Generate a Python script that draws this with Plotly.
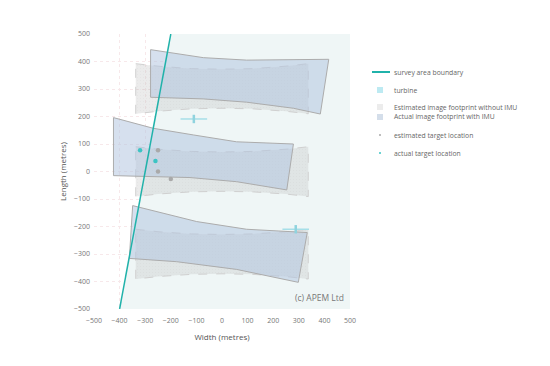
import plotly.graph_objects as go

# ---------------- data ----------------
ticks = [-500, -400, -300, -200, -100, 0, 100, 200, 300, 400, 500]

boundary_x = [-400, -200]
boundary_y = [-500, 500]

# survey area polygon (right of boundary)
survey_x = [-400, -200, 500, 500, -400]
survey_y = [-500, 500, 500, -500, -500]

# estimated image footprints without IMU (three strips)
est_x = [-337, -250, -120, 0, 120, 250, 337]
est1_top = [392, 383, 374, 372, 374, 383, 392]
est1_bot = [210, 219, 228, 230, 228, 219, 210]
est2_top = [90, 81, 73, 71, 73, 81, 90]
est2_bot = [-91, -82, -74, -72, -74, -82, -91]
est3_top = [-210, -219, -227, -229, -227, -219, -210]
est3_bot = [-391, -382, -374, -372, -374, -382, -391]

# actual image footprints with IMU
act1_x = [-279, -73, 96, 417, 384, 279, 96, -73, -279, -279]
act1_y = [443, 414, 405, 408, 209, 230, 252, 264, 270, 443]
act2_x = [-424, -268, -112, 57, 279, 253, 57, -125, -424, -424]
act2_y = [196, 157, 133, 108, 100, -67, -37, -22, -15, 196]
act3_x = [-349, -99, 96, 333, 298, 57, -177, -362, -349]
act3_y = [-124, -182, -210, -222, -403, -356, -328, -316, -124]

turbine_x = [-110, 288]
turbine_y = [191, -210]

est_target_x = [-250, -250, -200]
est_target_y = [77, 0, -27]
act_target_x = [-320, -260]
act_target_y = [77, 38]

# ---------------- style ----------------
TEAL = "#20b2aa"
BG_FILL = "#eff6f6"
GREY_FILL = "rgba(190,190,190,0.30)"
GREY_LINE = "#d0d0d0"
BLUE_FILL = "rgba(176,196,222,0.52)"
BLUE_LINE = "#acacac"
TURB = "#a6dfe8"
FONT = "Open Sans"

fig = go.Figure()

fig.add_trace(go.Scatter(x=survey_x, y=survey_y, mode="lines", fill="toself",
                         fillcolor=BG_FILL, line=dict(width=0), hoverinfo="skip",
                         showlegend=False))


def closed(xs, top, bot):
    return xs + xs[::-1] + [xs[0]], top + bot[::-1] + [top[0]]


for top, bot in [(est1_top, est1_bot), (est2_top, est2_bot), (est3_top, est3_bot)]:
    px, py = closed(est_x, top, bot)
    fig.add_trace(go.Scatter(x=px, y=py, mode="lines", fill="toself",
                             fillcolor=GREY_FILL,
                             fillpattern=dict(shape=".", fgcolor="rgba(160,160,160,0.3)",
                                              bgcolor=GREY_FILL, size=3, solidity=0.08),
                             line=dict(color=GREY_LINE, width=1, dash="dash"),
                             showlegend=False, name="Estimated image footprint without IMU"))

for ax, ay in [(act1_x, act1_y), (act2_x, act2_y), (act3_x, act3_y)]:
    fig.add_trace(go.Scatter(x=ax, y=ay, mode="lines", fill="toself",
                             fillcolor=BLUE_FILL, line=dict(color=BLUE_LINE, width=1),
                             showlegend=False, name="Actual image footprint with IMU"))

# turbines: blades + nacelle
fig.add_trace(go.Scatter(x=turbine_x, y=turbine_y, mode="markers",
                         marker=dict(symbol="line-ew", size=19, line=dict(color=TURB, width=1.5)),
                         showlegend=False, name="turbine"))
fig.add_trace(go.Scatter(x=turbine_x, y=turbine_y, mode="markers",
                         marker=dict(symbol="line-ns", size=6, line=dict(color="#8fd3de", width=2.5)),
                         showlegend=False, name="turbine"))

fig.add_trace(go.Scatter(x=boundary_x, y=boundary_y, mode="lines",
                         line=dict(color=TEAL, width=1.5), showlegend=False,
                         name="survey area boundary"))

fig.add_trace(go.Scatter(x=est_target_x, y=est_target_y, mode="markers",
                         marker=dict(color="#a9a9a9", size=4.5), showlegend=False,
                         name="estimated target location"))
fig.add_trace(go.Scatter(x=act_target_x, y=act_target_y, mode="markers",
                         marker=dict(color="#3cc4c4", size=4.5), showlegend=False,
                         name="actual target location"))

# ---------------- manual legend (positions relative to plot area) ----------------
L, T, H, W = 94, 34, 275, 256


def px2x(p):
    return (p - L) / W


def px2y(p):
    return (T + H - p) / H


legend_items = [
    ("survey area boundary", 72, "line", TEAL),
    ("turbine", 90, "square", "#bdeaf2"),
    ("Estimated image footprint without IMU", 107, "square", "#ececec"),
    ("Actual image footprint with IMU", 117, "square", "#d4deea"),
    ("estimated target location", 135, "dot", "#a9a9a9"),
    ("actual target location", 153, "dot", "#3cc4c4"),
]
shapes = []
annotations = []
for text, yy, kind, col in legend_items:
    if kind == "line":
        shapes.append(dict(type="line", xref="paper", yref="paper",
                           x0=px2x(372), x1=px2x(390), y0=px2y(yy), y1=px2y(yy),
                           line=dict(color=TEAL, width=2)))
    elif kind == "square":
        shapes.append(dict(type="rect", xref="paper", yref="paper",
                           x0=px2x(377), x1=px2x(383), y0=px2y(yy + 3), y1=px2y(yy - 3),
                           fillcolor=col, line=dict(width=0)))
    else:
        shapes.append(dict(type="circle", xref="paper", yref="paper",
                           x0=px2x(379), x1=px2x(381), y0=px2y(yy + 1), y1=px2y(yy - 1),
                           fillcolor=col, line=dict(width=0)))
    annotations.append(dict(text=text, xref="paper", yref="paper", x=px2x(392), y=px2y(yy),
                            xanchor="left", yanchor="middle", showarrow=False,
                            font=dict(family=FONT, size=6.8, color="#666666")))

annotations.append(dict(text="(c) APEM Ltd", xref="paper", yref="paper", x=0.985, y=0.015,
                        xanchor="right", yanchor="bottom", showarrow=False,
                        font=dict(family=FONT, size=8.5, color="#777777")))

axis_common = dict(range=[-500, 500], tickvals=ticks, showgrid=True,
                   gridcolor="#f7e8ea", griddash="dot", gridwidth=1,
                   zeroline=False, showline=False, ticks="", automargin=False,
                   tickfont=dict(family=FONT, size=7, color="#777777"))

fig.update_layout(
    width=550, height=366,
    margin=dict(l=86, r=208, t=26, b=65),
    paper_bgcolor="white", plot_bgcolor="white",
    showlegend=False,
    shapes=shapes, annotations=annotations,
    xaxis=dict(**axis_common, ticklabelstandoff=6,
               title=dict(text="Width (metres)", standoff=10,
                          font=dict(family=FONT, size=8, color="#555555"))),
    yaxis=dict(**axis_common, ticklabelstandoff=3,
               title=dict(text="Length (metres)", standoff=6,
                          font=dict(family=FONT, size=8, color="#555555"))),
)

fig.write_html("out.html")
